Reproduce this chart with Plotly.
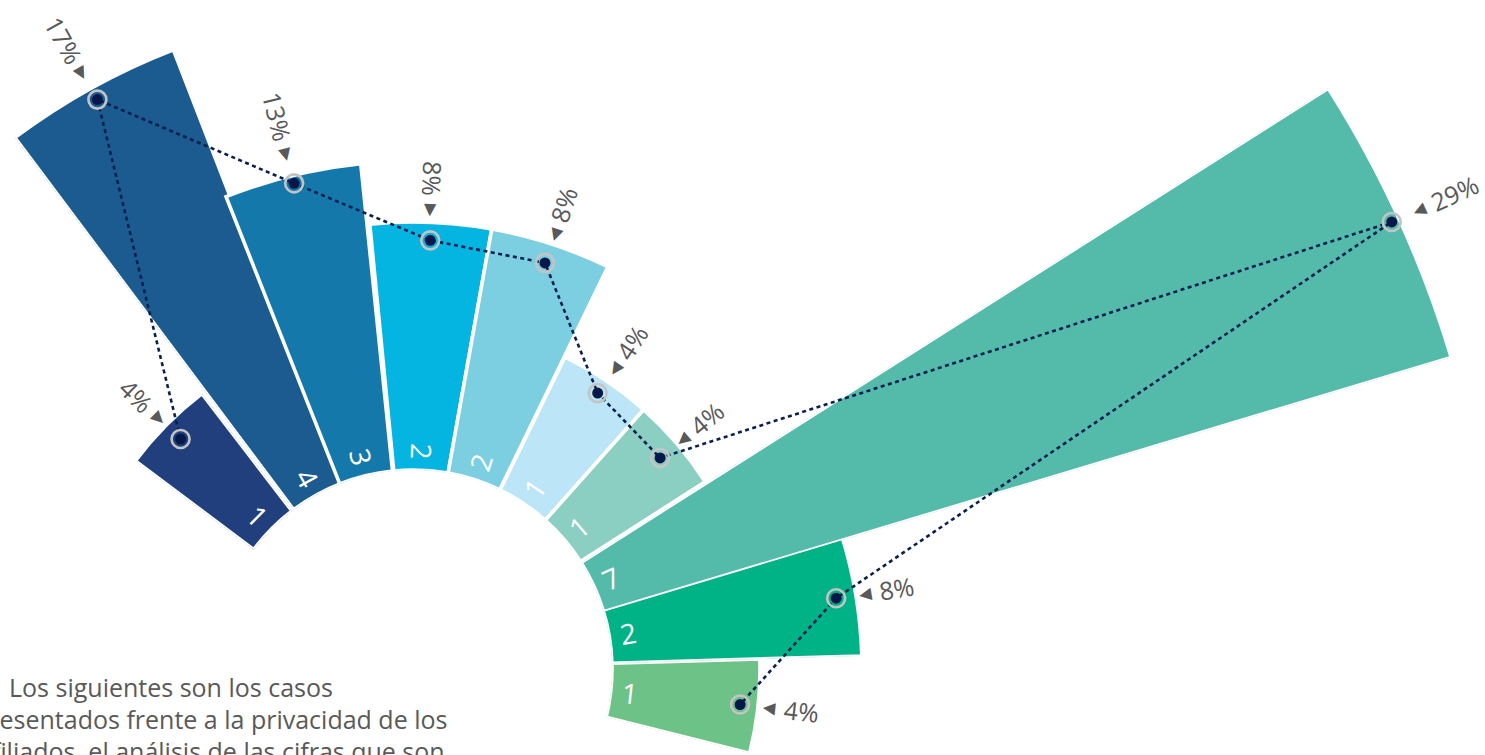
import math
import plotly.graph_objects as go

# ---------------- data ----------------
counts = [1, 4, 3, 2, 2, 1, 1, 7, 2, 1]
pct_labels = ["4%", "17%", "13%", "8%", "8%", "4%", "4%", "29%", "8%", "4%"]
theta_deg = [135.3, 119.0, 103.75, 87.7, 72.0, 56.2, 40.5, 24.55, 9.5, -6.2]   # bar centre angles
bar_width_deg = 15.69
# radial length of each bar beyond the hole (1 unit = 100 px)
bar_len = [1.48, 4.65, 3.09, 2.48, 2.48, 1.48, 1.48, 8.85, 2.50, 1.48]
# radial position of the marker dot on each bar (same units)
dot_len = [1.28, 4.52, 3.01, 2.30, 2.28, 1.33, 1.26, 8.77, 2.30, 1.30]
bar_colors = ["#213f7c", "#1b5b8f", "#1479aa", "#05b5e1", "#7bcfe1",
              "#bce6f8", "#8acfc2", "#54bbaa", "#00b386", "#6dc287"]
paragraph = ["Los siguientes son los casos",
             "presentados frente a la privacidad de los",
             "afiliados, el análisis de las cifras que son"]

# ---------------- layout constants ----------------
W, H = 1485, 755
CX, CY = 413.0, 669.0        # pixel centre of the radial chart
K = 100.0                    # pixels per radial unit
HOLE_U = 1.99                # hole radius in radial units
groups = [[0], [1, 2, 3, 4, 5, 6, 8], [7], [9]]   # bars sharing one polar frame
GRAY = "#58595b"
FONT = "Open Sans"


def sector_bbox(s0, s1):
    arc = s1 - s0
    a0 = s0 % 360
    a1 = a0 + arc
    r = math.radians
    ax0, ay0, ax1, ay1 = math.cos(r(a0)), math.sin(r(a0)), math.cos(r(a1)), math.sin(r(a1))
    if (a0 <= 90 and a1 >= 90) or (a0 > 90 and a1 >= 450):
        y1 = 1
    elif ay0 <= 0 and ay1 <= 0:
        y1 = 0
    else:
        y1 = max(ay0, ay1)
    if (a0 <= 180 and a1 >= 180) or (a0 > 180 and a1 >= 540):
        x0 = -1
    elif ax0 >= 0 and ax1 >= 0:
        x0 = 0
    else:
        x0 = min(ax0, ax1)
    if (a0 <= 270 and a1 >= 270) or (a0 > 270 and a1 >= 630):
        y0 = -1
    elif ay0 >= 0 and ay1 >= 0:
        y0 = 0
    else:
        y0 = min(ay0, ay1)
    if a1 >= 360:
        x1 = 1
    elif ax0 <= 0 and ax1 <= 0:
        x1 = 0
    else:
        x1 = max(ax0, ax1)
    return x0, y0, x1, y1


def to_xy(length, th):
    rr = HOLE_U + length
    return rr * math.cos(math.radians(th)), rr * math.sin(math.radians(th))


fig = go.Figure()
# invisible cartesian frame sharing the polar centre / scale (for labels & connector)
fig.add_trace(go.Scatter(x=[None], y=[None], showlegend=False, hoverinfo="skip"))

layout_polars = {}
for gi, idx in enumerate(groups):
    name = "polar" if gi == 0 else f"polar{gi + 1}"
    s0 = min(theta_deg[i] for i in idx) - bar_width_deg / 2
    s1 = max(theta_deg[i] for i in idx) + bar_width_deg / 2
    rmax_u = max(bar_len[i] for i in idx) + 0.02
    R = (HOLE_U + rmax_u) * K
    bx0, by0, bx1, by1 = sector_bbox(s0, s1)
    dom_x = [(CX + bx0 * R) / W, (CX + bx1 * R) / W]
    dom_y = [1 - (CY - by0 * R) / H, 1 - (CY - by1 * R) / H]
    dom_x = [min(max(v, 0), 1) for v in dom_x]
    dom_y = [min(max(v, 0), 1) for v in dom_y]
    fig.add_trace(go.Barpolar(
        r=[bar_len[i] for i in idx],
        theta=[theta_deg[i] for i in idx],
        width=[bar_width_deg] * len(idx),
        marker=dict(color=[bar_colors[i] for i in idx], line=dict(color="white", width=3.6)),
        subplot=name, showlegend=False, hoverinfo="skip",
    ))
    layout_polars[name] = dict(
        domain=dict(x=dom_x, y=dom_y),
        sector=[s0, s1],
        hole=HOLE_U * K / R,
        bgcolor="rgba(0,0,0,0)",
        radialaxis=dict(visible=False, range=[0, rmax_u]),
        angularaxis=dict(visible=False, rotation=0, direction="counterclockwise",
                         thetaunit="degrees"),
    )

shapes = []
annotations = []

# dotted connector
pts = [to_xy(dot_len[i], theta_deg[i]) for i in range(len(counts))]
path = "M " + " L ".join(f"{x:.4f},{y:.4f}" for x, y in pts)
shapes.append(dict(type="path", xref="x", yref="y", path=path, layer="above",
                   line=dict(color="#0b1f50", width=2.6, dash="4px,3.5px")))
# dots
for x, y in pts:
    shapes.append(dict(type="circle", xref="x", yref="y", xsizemode="pixel", ysizemode="pixel",
                       xanchor=x, yanchor=y, x0=-9, x1=9, y0=-9, y1=9, layer="above",
                       line=dict(color="#c4c4c4", width=2.6), fillcolor="rgba(0,0,0,0)"))
    shapes.append(dict(type="circle", xref="x", yref="y", xsizemode="pixel", ysizemode="pixel",
                       xanchor=x, yanchor=y, x0=-5.5, x1=5.5, y0=-5.5, y1=5.5, layer="above",
                       line=dict(width=0), fillcolor="#06184a"))


def tangle(th):
    return 180 - th if th > 80 else -th


PCT_SIZE = 25
for i, th in enumerate(theta_deg):
    ang = tangle(th)
    # count label near the hole
    x, y = to_xy(0.19, th)
    annotations.append(dict(x=x, y=y, xref="x", yref="y", text=str(counts[i]), showarrow=False,
                            textangle=ang, xanchor="center", yanchor="middle",
                            font=dict(family=FONT, size=28, color="white")))
    # triangle pointer
    x, y = to_xy(dot_len[i] + 0.30, th)
    tri = "▶" if th > 80 else "◀"
    annotations.append(dict(x=x, y=y, xref="x", yref="y", text=tri, showarrow=False,
                            textangle=ang, xanchor="center", yanchor="middle", borderpad=0,
                            font=dict(family="DejaVu Sans", size=16, color=GRAY)))
    # percentage label
    lab = pct_labels[i]
    ndig = len(lab) - 1
    w_px = (ndig * 0.572 + 0.83) * PCT_SIZE
    x, y = to_xy(dot_len[i] + (44 + w_px / 2) / K, th)
    annotations.append(dict(x=x, y=y, xref="x", yref="y", text=lab, showarrow=False,
                            textangle=ang, xanchor="center", yanchor="middle", borderpad=0,
                            font=dict(family=FONT, size=PCT_SIZE, color=GRAY)))

# cropped paragraph at the bottom left
para_pos = [(7, 687), (-28, 719), (-24, 751)]
for txt, (px, py) in zip(paragraph, para_pos):
    annotations.append(dict(x=px / W, y=1 - py / H, xref="paper", yref="paper", text=txt,
                            showarrow=False, xanchor="left", yanchor="middle", align="left",
                            font=dict(family=FONT, size=25, color="#595959")))

fig.update_layout(
    template="none",
    width=W, height=H,
    margin=dict(l=0, r=0, t=0, b=0, pad=0),
    paper_bgcolor="white", plot_bgcolor="rgba(0,0,0,0)",
    showlegend=False,
    xaxis=dict(visible=False, range=[-CX / K, (W - CX) / K], domain=[0, 1], fixedrange=True),
    yaxis=dict(visible=False, range=[-(H - CY) / K, CY / K], domain=[0, 1], fixedrange=True),
    shapes=shapes,
    annotations=annotations,
    **layout_polars,
)

fig.write_html("out.html", config={"displayModeBar": False},
               post_script="document.body.style.margin='0';document.body.style.overflow='hidden';")
